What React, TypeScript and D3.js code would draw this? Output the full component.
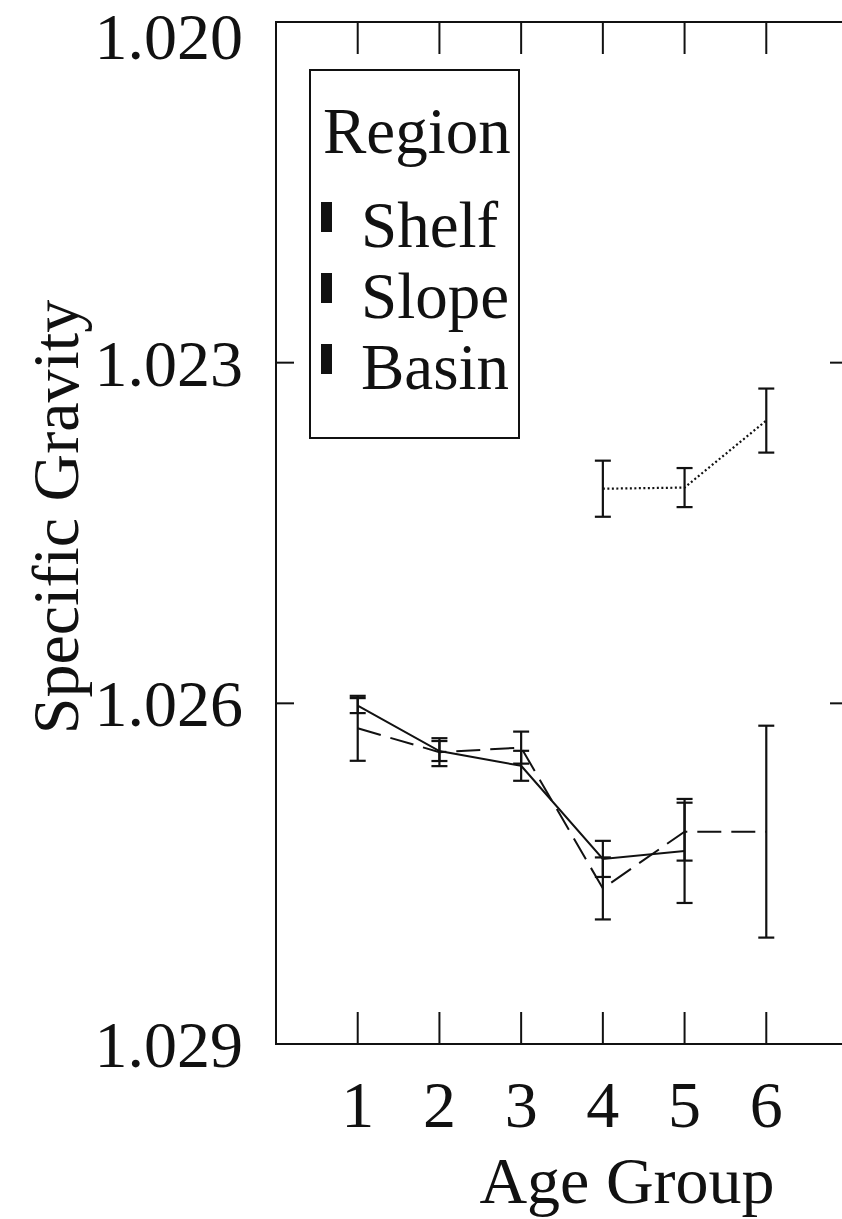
import React from "react";
import * as d3 from "d3";

const ageGroups = [1, 2, 3, 4, 5, 6];
const yTicks = [1.020, 1.023, 1.026, 1.029];

const shelfAges = [1, 2, 3, 4, 5];
const shelfMean = [1.02602, 1.02642, 1.02655, 1.02737, 1.0273];
const shelfErr = [0.000066, 0.000088, 0.000132, 0.000159, 0.000458];

const slopeAges = [1, 2, 3, 4, 5, 6];
const slopeMean = [1.02622, 1.02643, 1.02639, 1.02763, 1.02713, 1.02713];
const slopeErr = [0.000286, 0.000123, 0.000141, 0.000273, 0.000255, 0.000933];

const basinAges = [4, 5, 6];
const basinMean = [1.02411, 1.0241, 1.02351];
const basinErr = [0.000247, 0.000172, 0.000282];

const legendItems = ["Shelf", "Slope", "Basin"];

const W = 842;
const H = 1219;
const FONT = '"Liberation Serif", "Times New Roman", Times, "DejaVu Serif", serif';
const txt: React.CSSProperties = { fontFamily: FONT };

export default function App() {
  const left = 276;
  const right = 848;
  const top = 22;
  const bottom = 1044;
  const x = d3.scaleLinear().domain([0, 7]).range([left, right]);
  const y = d3.scaleLinear().domain([1.02, 1.029]).range([top, bottom]);

  const series = [
    { ages: shelfAges, mean: shelfMean, err: shelfErr, dash: undefined, width: 2 },
    { ages: slopeAges, mean: slopeMean, err: slopeErr, dash: "24,10", width: 2 },
    { ages: basinAges, mean: basinMean, err: basinErr, dash: "2,2.5", width: 2.2 },
  ];

  const line = d3
    .line<[number, number]>()
    .x((d) => x(d[0]))
    .y((d) => y(d[1]));

  const cap = 8;
  const xTickLen = 32;
  const yTickLen = 18;

  return (
    <svg
      width={W}
      height={H}
      style={{ position: "absolute", left: 0, top: 0, background: "#fff", fontFamily: FONT }}
    >
      <rect x={0} y={0} width={W} height={H} fill="#fff" />
      <rect
        x={left}
        y={top}
        width={right - left}
        height={bottom - top}
        fill="none"
        stroke="#111"
        strokeWidth={2}
      />
      {ageGroups.map((a) => (
        <g key={"xt" + a}>
          <line x1={x(a)} x2={x(a)} y1={top} y2={top + xTickLen} stroke="#111" strokeWidth={2} />
          <line x1={x(a)} x2={x(a)} y1={bottom} y2={bottom - xTickLen} stroke="#111" strokeWidth={2} />
          <text x={x(a)} y={1127} fontSize={66} textAnchor="middle" fill="#111" style={txt}>
            {a}
          </text>
        </g>
      ))}
      {yTicks.map((t, i) => (
        <g key={"yt" + i}>
          <line x1={left} x2={left + yTickLen} y1={y(t)} y2={y(t)} stroke="#111" strokeWidth={2} />
          <line x1={right} x2={right - yTickLen} y1={y(t)} y2={y(t)} stroke="#111" strokeWidth={2} />
          <text
            x={243}
            y={Math.max(y(t), 36) + 23}
            fontSize={66}
            textAnchor="end"
            fill="#111"
            style={txt}
          >
            {t.toFixed(3)}
          </text>
        </g>
      ))}
      <text x={627} y={1203} fontSize={66} textAnchor="middle" fill="#111" style={txt}>
        Age Group
      </text>
      <text
        transform={`translate(78, 517) rotate(-90)`}
        fontSize={66}
        textAnchor="middle"
        fill="#111"
        style={txt}
      >
        Specific Gravity
      </text>

      {series.map((s, si) => {
        const pts: [number, number][] = s.ages.map((a, i) => [a, s.mean[i]]);
        return (
          <g key={"s" + si}>
            {s.ages.map((a, i) => {
              const cx = x(a);
              const y1 = y(s.mean[i] - s.err[i]);
              const y2 = y(s.mean[i] + s.err[i]);
              return (
                <g key={"e" + i} stroke="#111" strokeWidth={2.2}>
                  <line x1={cx} x2={cx} y1={y1} y2={y2} />
                  <line x1={cx - cap} x2={cx + cap} y1={y1} y2={y1} />
                  <line x1={cx - cap} x2={cx + cap} y1={y2} y2={y2} />
                </g>
              );
            })}
            <path
              d={line(pts) || ""}
              fill="none"
              stroke="#111"
              strokeWidth={s.width}
              strokeDasharray={s.dash}
            />
          </g>
        );
      })}

      <rect x={310} y={70} width={209} height={368} fill="#fff" stroke="#111" strokeWidth={2} />
      <text x={323} y={153} fontSize={65} fill="#111" style={txt}>
        Region
      </text>
      {legendItems.map((name, i) => {
        const base = 247 + i * 71;
        return (
          <g key={name}>
            <rect x={321} y={base - 45} width={11} height={30} fill="#111" />
            <text x={361} y={base} fontSize={65} fill="#111" style={txt}>
              {name}
            </text>
          </g>
        );
      })}
    </svg>
  );
}
